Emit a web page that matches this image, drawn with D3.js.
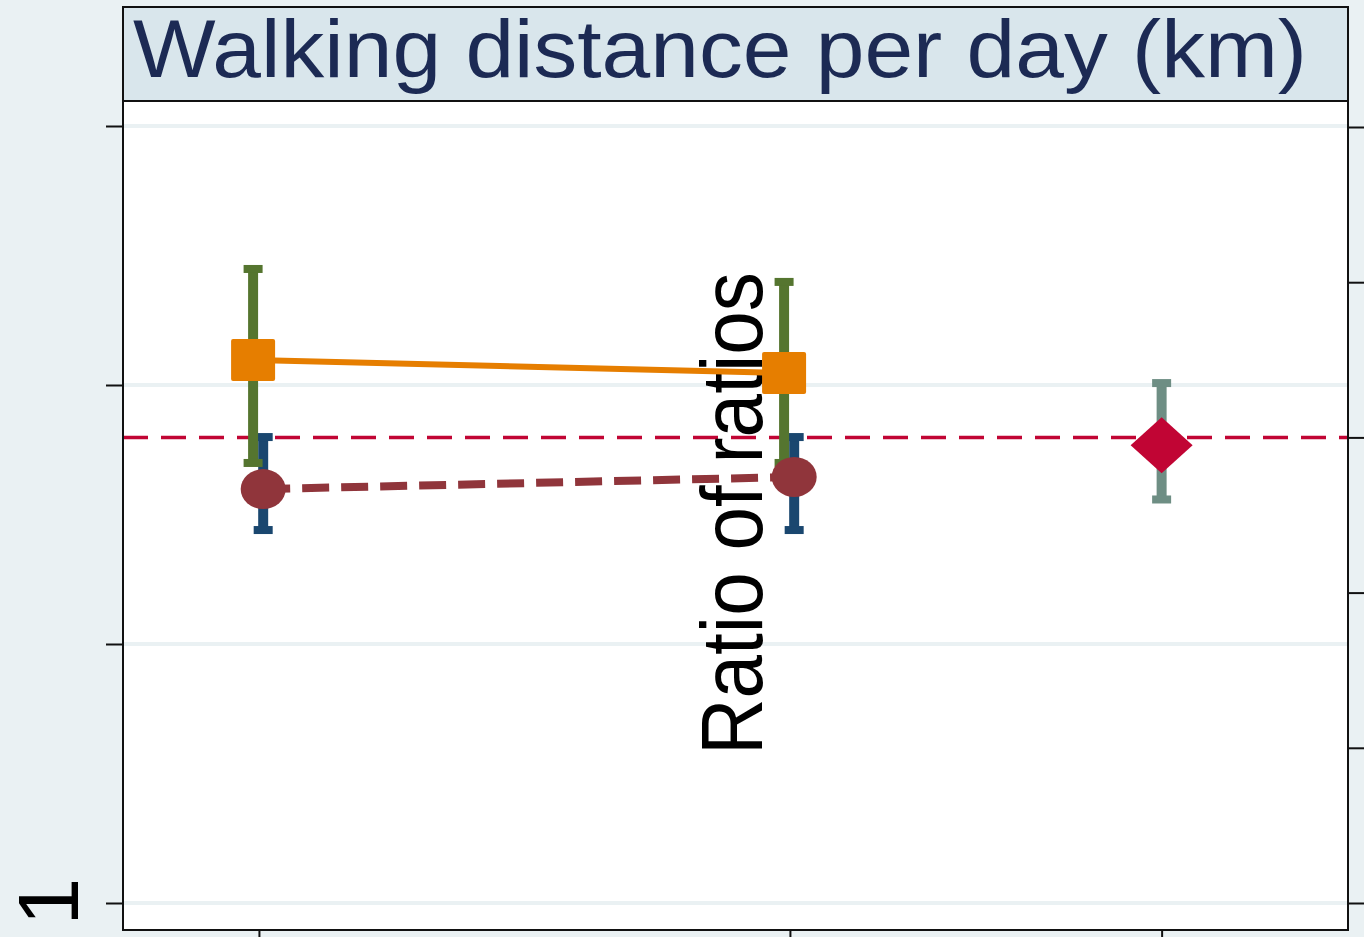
<!DOCTYPE html>
<html>
<head>
<meta charset="utf-8">
<script src="https://cdn.jsdelivr.net/npm/d3@7"></script>
<style>
  html, body { margin: 0; padding: 0; background: #eaf1f3; }
  svg { display: block; font-family: "Liberation Sans", Arial, sans-serif; }
</style>
</head>
<body>
<div id="chart"></div>
<script>
// data
var xPositions = [1, 2];
var diamondX = 2.7;
var squareMean = [1.2097, 1.2046];
var squareLo = [1.1699, 1.1699];
var squareHi = [1.2448, 1.2398];
var circleMean = [1.1598, 1.1645];
var circleLo = [1.1440, 1.1440];
var circleHi = [1.1799, 1.1799];
var ratioMean = 0.995;
var ratioLo = 0.960;
var ratioHi = 1.035;
var refLine = 1.0;
var leftTicks = [1, 1.1, 1.2, 1.3];
var leftTickLabels = ["1", "", "", ""];
var rightTicks = [0.7, 0.8, 0.9, 1.0, 1.1, 1.2];
var bottomTicks = [1, 2, 2.7];

var W = 1364, H = 937;
var margin = {top: 101, right: 16, bottom: 7, left: 123};
var plotW = W - margin.left - margin.right,
    plotH = H - margin.top - margin.bottom;

var svg = d3.select("#chart").append("svg")
  .attr("width", W).attr("height", H);

svg.append("rect").attr("width", W).attr("height", H).attr("fill", "#eaf1f3");

// title band
svg.append("rect")
  .attr("x", margin.left).attr("y", 7)
  .attr("width", plotW).attr("height", margin.top - 7)
  .attr("fill", "#d9e6ec").attr("stroke", "#111").attr("stroke-width", 2);
svg.append("text")
  .attr("x", 133).attr("y", 77)
  .attr("font-size", 82)
  .attr("fill", "#1c2a54")
  .attr("textLength", 1174).attr("lengthAdjust", "spacingAndGlyphs")
  .text("Walking distance per day (km)");

var g = svg.append("g")
  .attr("transform", "translate(" + margin.left + "," + margin.top + ")");

var x = d3.scaleLinear().domain([0.744, 3.051]).range([0, plotW]);
var yL = d3.scaleLinear().domain([1, 1.3]).range([802, 25]);
var yR = d3.scaleLinear().domain([0.7, 1.2]).range([802, 26]);

g.append("rect").attr("width", plotW).attr("height", plotH).attr("fill", "#fff");

// gridlines
g.selectAll(".grid").data(leftTicks).enter().append("line")
  .attr("x1", 0).attr("x2", plotW)
  .attr("y1", function(d) { return yL(d); })
  .attr("y2", function(d) { return yL(d); })
  .attr("stroke", "#eaf1f3").attr("stroke-width", 4);

// axes
var leftAxis = g.append("g")
  .call(d3.axisLeft(yL).tickValues(leftTicks).tickSize(17)
    .tickFormat(function(d, i) { return leftTickLabels[i]; }));
leftAxis.select(".domain").remove();
leftAxis.selectAll("line").attr("stroke", "#111").attr("stroke-width", 2);
leftAxis.selectAll("text")
  .attr("font-size", 86).attr("fill", "#000")
  .attr("transform", "translate(-45,0) rotate(-90)")
  .attr("x", 2).attr("dy", 0)
  .style("text-anchor", "middle");

var rightAxis = g.append("g").attr("transform", "translate(" + plotW + ",0)")
  .call(d3.axisRight(yR).tickValues(rightTicks).tickSize(17).tickFormat(""));
rightAxis.select(".domain").remove();
rightAxis.selectAll("line").attr("stroke", "#111").attr("stroke-width", 2);

var bottomAxis = g.append("g").attr("transform", "translate(0," + plotH + ")")
  .call(d3.axisBottom(x).tickValues(bottomTicks).tickSize(8).tickFormat(""));
bottomAxis.select(".domain").remove();
bottomAxis.selectAll("line").attr("stroke", "#111").attr("stroke-width", 2);

// reference line
g.append("line")
  .attr("x1", 0).attr("x2", plotW)
  .attr("y1", yR(refLine)).attr("y2", yR(refLine))
  .attr("stroke", "#c10534").attr("stroke-width", 3.5)
  .attr("stroke-dasharray", "25,13");

// right axis title (sits inside the crop)
g.append("text")
  .attr("transform", "translate(" + (762 - margin.left) + "," + (513.5 - margin.top) + ") rotate(-90)")
  .attr("font-size", 87).attr("fill", "#000")
  .attr("x", -241.5)
  .attr("textLength", 483).attr("lengthAdjust", "spacingAndGlyphs")
  .text("Ratio of ratios");

var offA = -0.011, offB = 0.008;

function errorBar(cx, lo, hi, color, yScale) {
  g.append("line")
    .attr("x1", cx).attr("x2", cx)
    .attr("y1", yScale(lo)).attr("y2", yScale(hi))
    .attr("stroke", color).attr("stroke-width", 10);
  [lo, hi].forEach(function(v) {
    g.append("rect")
      .attr("x", cx - 9.5).attr("y", yScale(v) - 4)
      .attr("width", 19).attr("height", 8)
      .attr("fill", color);
  });
}

// CIs
xPositions.forEach(function(d, i) {
  errorBar(x(d + offB), circleLo[i], circleHi[i], "#1a476f", yL);
});
xPositions.forEach(function(d, i) {
  errorBar(x(d + offA), squareLo[i], squareHi[i], "#55752f", yL);
});

// lines
g.append("path")
  .datum(xPositions)
  .attr("d", d3.line()
    .x(function(d) { return x(d + offA); })
    .y(function(d, i) { return yL(squareMean[i]); }))
  .attr("fill", "none").attr("stroke", "#e67e00").attr("stroke-width", 6);

g.append("path")
  .datum(xPositions)
  .attr("d", d3.line()
    .x(function(d) { return x(d + offB); })
    .y(function(d, i) { return yL(circleMean[i]); }))
  .attr("fill", "none").attr("stroke", "#90353b").attr("stroke-width", 8)
  .attr("stroke-dasharray", "27,12");

// markers
g.selectAll(".sq").data(xPositions).enter().append("rect")
  .attr("x", function(d) { return x(d + offA) - 22; })
  .attr("y", function(d, i) { return yL(squareMean[i]) - 21; })
  .attr("width", 44).attr("height", 42).attr("rx", 2)
  .attr("fill", "#e67e00");

g.selectAll(".ci").data(xPositions).enter().append("ellipse")
  .attr("cx", function(d) { return x(d + offB); })
  .attr("cy", function(d, i) { return yL(circleMean[i]); })
  .attr("rx", 22.5).attr("ry", 20)
  .attr("fill", "#90353b");

// ratio of ratios
errorBar(x(diamondX), ratioLo, ratioHi, "#6e8e84", yR);
g.append("path")
  .attr("transform", "translate(" + x(diamondX) + "," + yR(ratioMean) + ")")
  .attr("d", "M0,-28 L31,0 L0,28 L-31,0 Z")
  .attr("fill", "#c10534");

// frame
g.append("rect").attr("width", plotW).attr("height", plotH)
  .attr("fill", "none").attr("stroke", "#111").attr("stroke-width", 2);
</script>
</body>
</html>
